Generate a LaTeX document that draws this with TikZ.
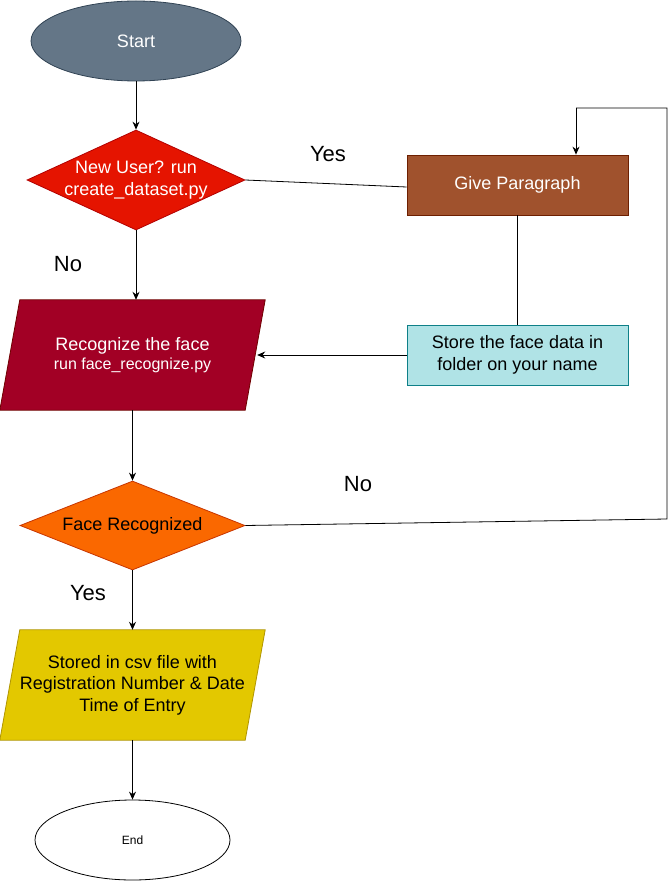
\documentclass[tikz,border=0pt]{standalone}
\usepackage{fontspec}
\setmainfont{Liberation Sans}
\usetikzlibrary{shapes.geometric,arrows.meta,backgrounds}
\definecolor{startfill}{HTML}{647687}
\definecolor{startdraw}{HTML}{314354}
\definecolor{redfill}{HTML}{E51400}
\definecolor{reddraw}{HTML}{B20000}
\definecolor{brownfill}{HTML}{A0522D}
\definecolor{browndraw}{HTML}{6D1F00}
\definecolor{tealfill}{HTML}{B0E3E6}
\definecolor{tealdraw}{HTML}{0E8088}
\definecolor{crimsonfill}{HTML}{A20025}
\definecolor{crimsondraw}{HTML}{6F0000}
\definecolor{orangefill}{HTML}{FA6800}
\definecolor{orangedraw}{HTML}{C73500}
\definecolor{yellowfill}{HTML}{E3C800}
\definecolor{yellowdraw}{HTML}{B09500}
\tikzset{
  big/.style={font=\fontsize{18}{21.6}\selectfont},
  lbl/.style={font=\fontsize{22}{26}\selectfont},
  ovalbox/.style={ellipse, inner sep=0pt, line width=0.8pt},
  diabox/.style={diamond, inner sep=0pt, line width=0.8pt},
  rectbox/.style={rectangle, inner sep=0pt, line width=0.8pt, minimum width=221pt, minimum height=60pt, align=center, big},
  parabox/.style={rectangle, inner sep=0pt, minimum width=245pt, minimum height=110pt, align=center, big},
  txt/.style={align=center, inner sep=0pt, big},
  conn/.style={line width=0.8pt, draw=black},
  arr/.style={conn, -{Stealth[length=8pt,width=7pt]}},
}
\newcommand{\paragon}[3]{%
  \begin{scope}[on background layer]
  \path[fill=#2, draw=#3, line width=0.8pt] ([xshift=10pt]#1.north west) -- ([xshift=10pt]#1.north east) -- ([xshift=-10pt]#1.south east) -- ([xshift=-10pt]#1.south west) -- cycle;
  \end{scope}}
\begin{document}
\begin{tikzpicture}[x=1pt,y=-1pt]
\useasboundingbox (0,0) rectangle (670,882);

% Start
\node[ovalbox, fill=startfill, draw=startdraw, minimum width=210pt, minimum height=80pt, text=white, big] (start) at (136,41) {Start};

% Decision 1
\node[diabox, fill=redfill, draw=reddraw, minimum width=218pt, minimum height=100pt] (d1) at (136,180) {};
\node[txt, text=white] (d1t) at (d1) {New User? run\\create\_dataset.py};

% Give Paragraph
\node[rectbox, fill=brownfill, draw=browndraw, text=white] (gp) at (517.5,185) {Give Paragraph};

% Store
\node[rectbox, fill=tealfill, draw=tealdraw, text=black] (store) at (517.5,355) {Store the face data in\\folder on your name};

% Recognize parallelogram
\node[parabox, text=white] (p1) at (132.5,355) {Recognize the face\\[-2pt]{\fontsize{16}{19}\selectfont run face\_recognize.py}};
\paragon{p1}{crimsonfill}{crimsondraw}

% Decision 2
\node[diabox, fill=orangefill, draw=orangedraw, minimum width=225pt, minimum height=89pt] (d2) at (132.5,525.5) {};
\node[txt, text=black] (d2t) at (d2) {Face Recognized};

% Stored csv parallelogram
\node[parabox, text=black] (p2) at (132.5,685) {Stored in csv file with\\Registration Number \& Date\\Time of Entry};
\paragon{p2}{yellowfill}{yellowdraw}

% End
\node[ovalbox, fill=white, draw=black, minimum width=195pt, minimum height=80pt, font=\fontsize{12}{14}\selectfont] (end) at (132.5,840) {End};

% Labels
\node[lbl] (yes1) at (328,154) {Yes};
\node[lbl] (no1) at (68,264) {No};
\node[lbl] (no2) at (358,484) {No};
\node[lbl] (yes2) at (88,593) {Yes};

% Loop coordinates
\coordinate (c1) at (667,519);
\coordinate (c2) at (667,108);
\coordinate (c3) at (576,108);

% Connectors
\draw[arr] (start.south) -- (d1.north);
\draw[conn] (d1.east) -- ([yshift=-2pt]gp.west);
\draw[conn] (gp.south) -- (store.north);
\draw[arr] (store.west) -- ([xshift=2pt]p1.east);
\draw[arr] (d1.south) -- (d1.south |- p1.north);
\draw[arr] (p1.south) -- (d2.north);
\draw[conn] (d2.east) -- (c1) -- (c2) -- (c3);
\draw[arr] (c3) -- (c3 |- gp.north);
\draw[arr] (d2.south) -- (p2.north);
\draw[arr] (p2.south) -- (end.north);
\end{tikzpicture}
\end{document}
